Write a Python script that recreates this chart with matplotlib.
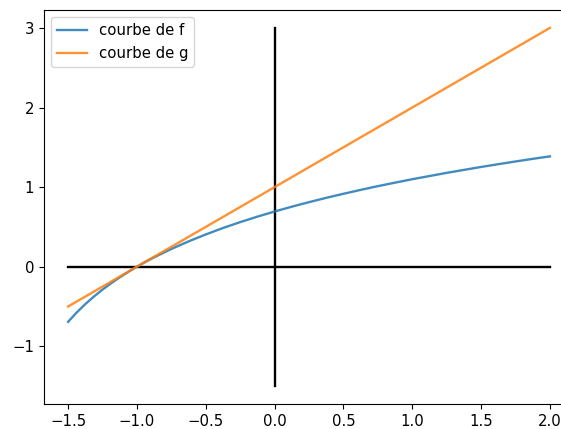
import matplotlib
matplotlib.use('Agg')
import matplotlib.pyplot as plt

plt.rcParams['font.size'] = 10.7

# valeurs
x_f = [-1.5, -1.4375, -1.375, -1.3125, -1.25, -1.1875, -1.125, -1.0625, -1.0, -0.9375,
       -0.875, -0.75, -0.625, -0.5, -0.375, -0.25, -0.125, 0.0, 0.125, 0.25, 0.375,
       0.5, 0.625, 0.75, 0.875, 1.0, 1.125, 1.25, 1.375, 1.5, 1.625, 1.75, 1.875, 2.0]
y_f = [-0.693, -0.575, -0.470, -0.375, -0.288, -0.208, -0.134, -0.065, 0.0, 0.061,
       0.118, 0.223, 0.318, 0.405, 0.486, 0.560, 0.629, 0.693, 0.754, 0.811, 0.865,
       0.916, 0.965, 1.012, 1.056, 1.099, 1.139, 1.179, 1.216, 1.253, 1.288, 1.322, 1.355, 1.386]

x_g = [-1.5, 2.0]
y_g = [-0.5, 3.0]

# axes du repère
axe_x = [-1.5, 2.0]
axe_y = [-1.5, 3.0]

fig = plt.figure(figsize=(5.61, 4.29), dpi=100)
ax = fig.add_axes([44/561, 25/429, 530/561, 394/429])

ax.plot(axe_x, [0, 0], color='black', lw=1.7)
ax.plot([0, 0], axe_y, color='black', lw=1.7)
ax.plot(x_f, y_f, color='tab:blue', alpha=0.85, lw=1.7, label='courbe de f')
ax.plot(x_g, y_g, color='tab:orange', alpha=0.85, lw=1.7, label='courbe de g')

ax.set_xticks([-1.5, -1.0, -0.5, 0.0, 0.5, 1.0, 1.5, 2.0])
ax.set_yticks([-1, 0, 1, 2, 3])
ax.legend(loc='upper left')

fig.savefig('out.png', dpi=100)
